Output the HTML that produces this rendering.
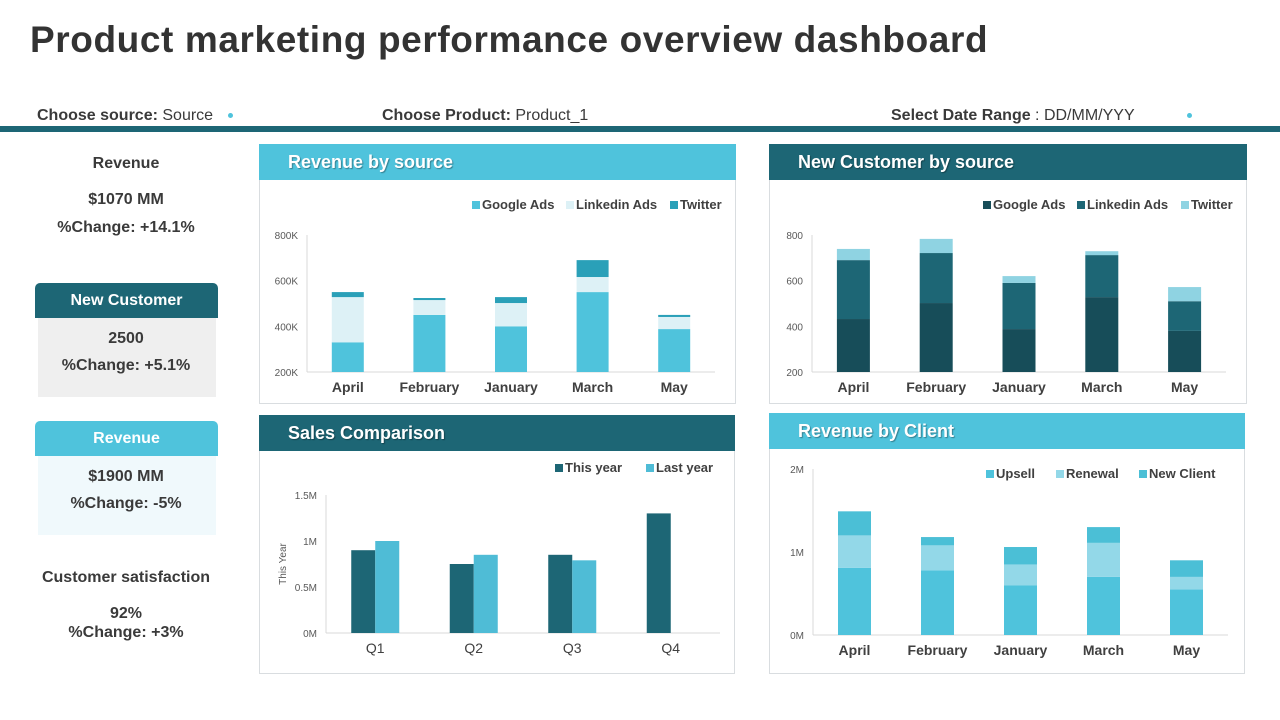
<!DOCTYPE html>
<html><head><meta charset="utf-8"><style>
body{margin:0;width:1280px;height:720px;background:#fff;position:relative;overflow:hidden;font-family:"Liberation Sans",Arial,sans-serif;color:#3a3a3a}
.a{position:absolute}
.c{position:absolute;text-align:center;font-weight:bold;font-size:16px;color:#3a3a3a}
.ph{position:absolute;color:#fff;font-weight:bold;font-size:18px;line-height:36px;padding-left:29px;box-sizing:border-box;text-shadow:1px 1px 1px rgba(0,0,0,.35)}
.pb{position:absolute;border:1px solid #d9dde0;box-sizing:border-box;border-top:none}
</style></head><body>
<div class="a" style="left:30px;top:19px;font-size:37px;font-weight:bold;color:#333;letter-spacing:0.6px">Product marketing performance overview dashboard</div>
<div class="a" style="left:37px;top:107px;font-size:16px"><b>Choose source:</b> Source</div>
<div class="a" style="left:382px;top:107px;font-size:16px"><b>Choose Product:</b> Product_1</div>
<div class="a" style="left:891px;top:107px;font-size:16px"><b>Select Date Range</b> : DD/MM/YYY</div>
<div class="a" style="left:228px;top:113px;width:5px;height:5px;border-radius:50%;background:#4fc3dc"></div>
<div class="a" style="left:1187px;top:113px;width:5px;height:5px;border-radius:50%;background:#4fc3dc"></div>
<div class="a" style="left:0;top:126px;width:1280px;height:6px;background:#1d6675"></div>

<div class="c" style="left:26px;width:200px;top:155px">Revenue</div>
<div class="c" style="left:26px;width:200px;top:191px">$1070 MM</div>
<div class="c" style="left:26px;width:200px;top:219px">%Change: +14.1%</div>

<div class="a" style="left:35px;top:283px;width:183px;height:35px;background:#1d6675;border-radius:5px 5px 0 0"></div>
<div class="c" style="left:35px;width:183px;top:292px;color:#fff">New Customer</div>
<div class="a" style="left:38px;top:318px;width:178px;height:79px;background:#efefef"></div>
<div class="c" style="left:26px;width:200px;top:330px">2500</div>
<div class="c" style="left:26px;width:200px;top:357px">%Change: +5.1%</div>

<div class="a" style="left:35px;top:421px;width:183px;height:35px;background:#4fc3dc;border-radius:5px 5px 0 0"></div>
<div class="c" style="left:35px;width:183px;top:430px;color:#fff">Revenue</div>
<div class="a" style="left:38px;top:456px;width:178px;height:79px;background:#f0f9fc"></div>
<div class="c" style="left:26px;width:200px;top:468px">$1900 MM</div>
<div class="c" style="left:26px;width:200px;top:495px">%Change: -5%</div>

<div class="c" style="left:26px;width:200px;top:569px">Customer satisfaction</div>
<div class="c" style="left:26px;width:200px;top:605px">92%</div>
<div class="c" style="left:26px;width:200px;top:624px">%Change: +3%</div>

<div class="ph" style="left:259px;top:144px;width:477px;height:36px;background:#4fc3dc">Revenue by source</div>
<div class="pb" style="left:259px;top:180px;width:477px;height:224px"></div>
<div class="ph" style="left:769px;top:144px;width:478px;height:36px;background:#1d6675">New Customer by source</div>
<div class="pb" style="left:769px;top:180px;width:478px;height:224px"></div>
<div class="ph" style="left:259px;top:415px;width:476px;height:36px;background:#1d6675">Sales Comparison</div>
<div class="pb" style="left:259px;top:451px;width:476px;height:223px"></div>
<div class="ph" style="left:769px;top:413px;width:476px;height:36px;background:#4fc3dc">Revenue by Client</div>
<div class="pb" style="left:769px;top:449px;width:476px;height:225px"></div>

<svg id="sv" class="a" style="left:0;top:0" width="1280" height="720"></svg>
<script>
const months = ["April","February","January","March","May"];
const revGoogle = [330,450,400,550,388];
const revLinkedin = [198,65,102,66,53];
const revTwitter = [22,9,26,74,9];
const revTicks = [200,400,600,800];
const revTickLabels = ["200K","400K","600K","800K"];
const custGoogle = [432,502,388,528,380];
const custLinkedin = [258,219,202,184,130];
const custTwitter = [49,62,30,17,62];
const custTicks = [200,400,600,800];
const custTickLabels = ["200","400","600","800"];
const quarters = ["Q1","Q2","Q3","Q4"];
const thisYear = [0.90,0.75,0.85,1.30];
const lastYear = [1.00,0.85,0.79,0];
const salesTicks = [0,0.5,1,1.5];
const salesTickLabels = ["0M","0.5M","1M","1.5M"];
const upsell = [0.81,0.78,0.60,0.70,0.55];
const renewal = [0.39,0.30,0.25,0.41,0.15];
const newClient = [0.29,0.10,0.21,0.19,0.20];
const clientTicks = [0,1,2];
const clientTickLabels = ["0M","1M","2M"];

const sv = document.getElementById('sv');
const NS = 'http://www.w3.org/2000/svg';
function mk(tag, attrs, text){const e=document.createElementNS(NS,tag);for(const k in attrs)e.setAttribute(k,attrs[k]);if(text!==undefined)e.textContent=text;sv.appendChild(e);return e;}

function axes(cfg){
  const y = v => cfg.y0 - (v - cfg.vmin)/(cfg.vmax - cfg.vmin)*(cfg.y0 - cfg.y1);
  let a=mk('line',{x1:cfg.x0,x2:cfg.x0,y1:cfg.y1,y2:cfg.y0,stroke:'#d9d9d9'});
  
  
  a=mk('line',{x1:cfg.x0,x2:cfg.x1,y1:cfg.y0,y2:cfg.y0,stroke:'#d9d9d9'});
  
  
  cfg.ticks.forEach((t,i)=>{
    const e=mk('text',{x:cfg.x0-9,y:y(t)+4,'text-anchor':'end','font-size':10,fill:'#595959'},cfg.tickLabels[i]);
    
    
  });
  const slot=(cfg.x1-cfg.x0)/cfg.cats.length;
  cfg.cats.forEach((c,i)=>{
    const e=mk('text',{x:cfg.x0+slot*(i+0.5),y:cfg.y0+20,'text-anchor':'middle','font-size':14,'font-weight':cfg.boldCats?'bold':'normal',fill:'#404040'},c);
    
    
  });
  return {y, slot};
}
function legend(items, ly){
  items.forEach(it=>{
    let r=mk('rect',{x:it[0],y:ly-8,width:8,height:8,fill:it[2]});
    
    
    let t=mk('text',{x:it[0]+10,y:ly,'font-size':13,'font-weight':'bold',fill:'#404040'},it[1]);
    
    
  });
}
function stacked(cfg, series, colors, bw){
  const {y, slot} = axes(cfg);
  cfg.cats.forEach((c,i)=>{
    let base=0;
    series.forEach((s,k)=>{
      const lo=Math.max(base,cfg.vmin), hi=base+s[i];
      if(hi>lo){
        const r=mk('rect',{x:cfg.x0+slot*(i+0.5)-bw/2,y:y(hi),width:bw,height:y(lo)-y(hi),fill:colors[k]});
        
        
      }
      base=hi;
    });
  });
}
stacked({name:'revenue-by-source',x0:307,x1:715,y0:372,y1:235,vmin:200,vmax:800,ticks:revTicks,tickLabels:revTickLabels,cats:months,boldCats:true},
  [revGoogle,revLinkedin,revTwitter],['#4fc3dc','#ddf1f6','#2aa0b8'],32);
legend([[472,'Google Ads','#4fc3dc'],[566,'Linkedin Ads','#ddf1f6'],[670,'Twitter','#2aa0b8']],209);

stacked({name:'new-customer-by-source',x0:812,x1:1226,y0:372,y1:235,vmin:200,vmax:800,ticks:custTicks,tickLabels:custTickLabels,cats:months,boldCats:true},
  [custGoogle,custLinkedin,custTwitter],['#174d59','#1d6675','#8fd3e2'],33);
legend([[983,'Google Ads','#174d59'],[1077,'Linkedin Ads','#1d6675'],[1181,'Twitter','#8fd3e2']],209);

(function(){
  const cfg={name:'sales-comparison',x0:326,x1:720,y0:633,y1:495,vmin:0,vmax:1.5,ticks:salesTicks,tickLabels:salesTickLabels,cats:quarters,boldCats:false};
  const {y, slot}=axes(cfg);
  quarters.forEach((q,i)=>{
    const cx=cfg.x0+slot*(i+0.5);
    if(thisYear[i]>0){const r=mk('rect',{x:cx-24,y:y(thisYear[i]),width:24,height:y(0)-y(thisYear[i]),fill:'#1d6675'});
      
      }
    if(lastYear[i]>0){const r=mk('rect',{x:cx,y:y(lastYear[i]),width:24,height:y(0)-y(lastYear[i]),fill:'#4fbcd6'});
      
      }
  });
  const t=mk('text',{x:0,y:0,'font-size':10,fill:'#595959','text-anchor':'middle',transform:'translate(286,564) rotate(-90)'},'This Year');
  
  
})();
legend([[555,'This year','#1d6675'],[646,'Last year','#4fbcd6']],472);

stacked({name:'revenue-by-client',x0:813,x1:1228,y0:635,y1:469,vmin:0,vmax:2,ticks:clientTicks,tickLabels:clientTickLabels,cats:months,boldCats:true},
  [upsell,renewal,newClient],['#4fc3dc','#93d8e8','#4bbfd6'],33);
legend([[986,'Upsell','#4fc3dc'],[1056,'Renewal','#93d8e8'],[1139,'New Client','#4bbfd6']],478);
</script>
</body></html>
